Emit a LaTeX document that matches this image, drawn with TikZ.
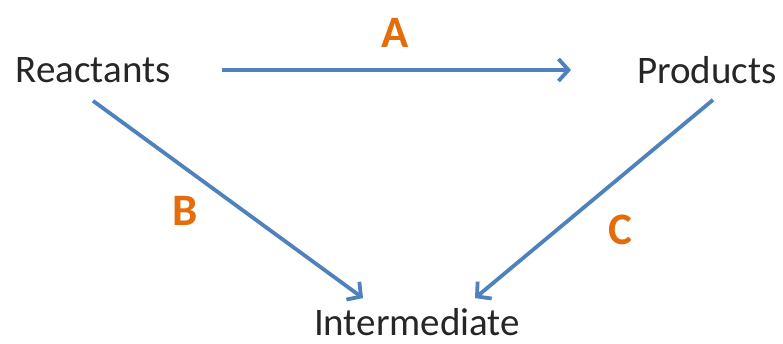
\documentclass[tikz,border=0pt]{standalone}
\usepackage{fontspec}
\setmainfont{Carlito}
\usetikzlibrary{arrows.meta,positioning}

\definecolor{arrowblue}{HTML}{4F81BD}
\definecolor{labelorange}{HTML}{E46C0A}
\definecolor{textgray}{HTML}{262626}

\tikzset{
    species/.style={inner sep=0pt, text=textgray, font=\fontsize{39}{41}\selectfont},
    steplabel/.style={inner sep=0pt, text=labelorange, font=\fontsize{45}{47}\selectfont\bfseries},
    flow/.style={arrowblue, line width=3.8pt, -{Straight Barb[length=10pt,width=22pt]}}
}

\begin{document}
\begin{tikzpicture}[x=1pt, y=1pt]

        \useasboundingbox (0,0) rectangle (783,344);

        % the three species
        \node[species] (Reactants) at (93, 274) {Reactants};
        \node[species] (Products) at (707, 274) {Products};
        \node[species] (Intermediate) at (417, 22) {Intermediate};

        % path labels
        \node[steplabel] (A) at (395, 311) {A};
        \node[steplabel] (B) at (185, 133) {B};
        \node[steplabel] (C) at (620, 114) {C};

        \begin{scope}[flow]
            \draw[shorten <=51pt, shorten >=66pt] (Reactants.east) -- (Products.west);
            \draw ([yshift=-18pt]Reactants.south) -- ([xshift=-54pt,yshift=10pt]Intermediate.north);
            \draw ([xshift=6pt,yshift=-16pt]Products.south) -- ([xshift=58pt,yshift=10pt]Intermediate.north);
        \end{scope}

\end{tikzpicture}
\end{document}
